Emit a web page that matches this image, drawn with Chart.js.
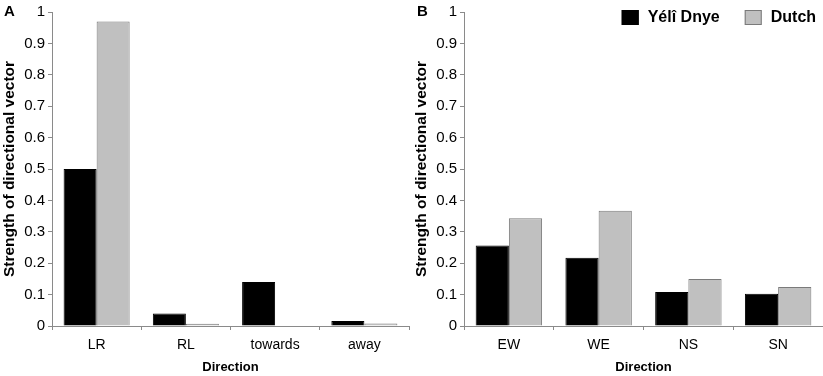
<!DOCTYPE html>
<html>
<head>
<meta charset="utf-8">
<script src="https://cdn.jsdelivr.net/npm/chart.js@4/dist/chart.umd.min.js"></script>
<style>
  html, body { margin: 0; padding: 0; background: #fff; }
  #wrap { position: relative; width: 823px; height: 376px; background: #fff; overflow: hidden; }
  canvas { position: absolute; top: 0; }
  #cA { left: 0; }
  #cB { left: 412px; }
  .panel { position: absolute; font-family: "Liberation Sans", Arial, sans-serif; font-weight: bold; font-size: 15px; line-height: 15px; color: #000; }
</style>
</head>
<body>
<div id="wrap">
  <canvas id="cA" width="412" height="376"></canvas>
  <canvas id="cB" width="411" height="376"></canvas>
  <div class="panel" style="left:4px; top:3px;">A</div>
  <div class="panel" style="left:417px; top:3px;">B</div>
</div>
<script>
// ---- data ----
const seriesNames = ['Yélî Dnye', 'Dutch'];
const categoriesA = ['LR', 'RL', 'towards', 'away'];
const yeliA = [0.50, 0.04, 0.14, 0.016];
const dutchA = [0.97, 0.007, 0, 0.008];
const categoriesB = ['EW', 'WE', 'NS', 'SN'];
const yeliB = [0.256, 0.217, 0.108, 0.103];
const dutchB = [0.343, 0.367, 0.150, 0.124];
const yTickLabels = ['0', '0.1', '0.2', '0.3', '0.4', '0.5', '0.6', '0.7', '0.8', '0.9', '1'];
const yTitle = 'Strength of directional vector';
const xTitle = 'Direction';

const FONT = '"Liberation Sans", Arial, sans-serif';
const AXIS = '#8a8a8a';

const legendPlugin = {
  id: 'customLegend',
  afterDraw(chart, args, opts) {
    if (!opts || !opts.show) return;
    const ctx = chart.ctx;
    ctx.save();
    ctx.font = 'bold 16px ' + FONT;
    ctx.textBaseline = 'middle';
    let x = opts.x;
    const y = opts.y;
    chart.data.datasets.forEach((ds) => {
      ctx.fillStyle = ds.backgroundColor;
      ctx.fillRect(x, y, 17, 15);
      ctx.strokeStyle = ds.borderColor;
      ctx.lineWidth = 1;
      ctx.strokeRect(x + 0.5, y + 0.5, 16, 14);
      ctx.fillStyle = '#000';
      const tx = x + 26;
      ctx.fillText(ds.label, tx, y + 8);
      x = tx + ctx.measureText(ds.label).width + 25;
    });
    ctx.restore();
  }
};

function makeChart(id, cats, s1, s2, padRight, legend) {
  return new Chart(document.getElementById(id), {
    type: 'bar',
    data: {
      labels: cats,
      datasets: [
        { label: seriesNames[0], data: s1, backgroundColor: '#000000', borderColor: '#000000', borderWidth: 1 },
        { label: seriesNames[1], data: s2, backgroundColor: '#c0c0c0', borderColor: '#7a7a7a', borderWidth: 1 }
      ]
    },
    plugins: [legendPlugin],
    options: {
      responsive: false,
      animation: false,
      devicePixelRatio: 1,
      layout: { padding: { left: 0, top: 9, right: padRight, bottom: 0 } },
      datasets: { bar: { categoryPercentage: 0.74, barPercentage: 1.0 } },
      plugins: {
        legend: { display: false },
        tooltip: { enabled: false },
        customLegend: legend
      },
      scales: {
        x: {
          offset: true,
          grid: { offset: true, drawOnChartArea: false, drawTicks: true, tickLength: 4, color: AXIS },
          border: { color: AXIS, width: 1 },
          ticks: { color: '#000', font: { family: FONT, size: 14 }, padding: 7, maxRotation: 0 },
          title: { display: true, text: xTitle, color: '#000', font: { family: FONT, size: 13, weight: 'bold' }, padding: { top: 0, bottom: 1 } },
          afterFit(scale) { scale.height = 50; }
        },
        y: {
          min: 0, max: 1,
          ticks: { stepSize: 0.1, color: '#000', font: { family: FONT, size: 15 }, padding: 3,
                   callback: (v, i) => yTickLabels[i] },
          grid: { drawOnChartArea: false, drawTicks: true, tickLength: 4, color: AXIS },
          border: { color: AXIS, width: 1 },
          title: { display: true, text: yTitle, color: '#000', font: { family: FONT, size: 15.5, weight: 'bold' }, padding: { top: 0, bottom: 0 } },
          afterFit(scale) { scale.width = 52; }
        }
      }
    }
  });
}

makeChart('cA', categoriesA, yeliA, dutchA, 3, { show: false });
makeChart('cB', categoriesB, yeliB, dutchB, 0, { show: true, x: 209.7, y: 10 });
</script>
</body>
</html>
